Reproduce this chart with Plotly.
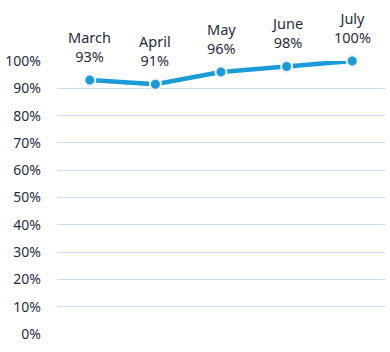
import plotly.graph_objects as go

months = ["March", "April", "May", "June", "July"]
values = [0.93, 0.915, 0.96, 0.98, 1.0]
value_labels = ["93%", "91%", "96%", "98%", "100%"]
tick_vals = [i / 10 for i in range(11)]
tick_text = [f"{i*10}%" for i in range(11)]

font_family = "Noto Sans"
text_color = "#1f2d3d"

fig = go.Figure()
fig.add_trace(go.Scatter(
    x=months, y=values,
    mode="lines+markers",
    line=dict(color="#1a9bd8", width=4.5),
    marker=dict(size=11, color="#1a9bd8", line=dict(color="#f0f0f0", width=2)),
    cliponaxis=False,
    hoverinfo="skip",
))

for m, v, lab in zip(months, values, value_labels):
    fig.add_annotation(
        x=m, y=v, text=f"{m}<br>{lab}", showarrow=False,
        yanchor="bottom", yshift=12,
        font=dict(family=font_family, size=14.5, color=text_color),
    )

fig.update_layout(
    width=390, height=352,
    margin=dict(l=53, r=5, t=61, b=18),
    paper_bgcolor="white", plot_bgcolor="white",
    showlegend=False,
    xaxis=dict(visible=False, range=[-0.5, 4.5]),
    yaxis=dict(range=[0, 1.0], tickvals=tick_vals, ticktext=tick_text,
               showgrid=True, gridcolor="#c9def2", gridwidth=1,
               zeroline=False, showline=False,
               tickfont=dict(family=font_family, size=14, color=text_color),
               ticklabelstandoff=15),
)

fig.write_html("out.html")
